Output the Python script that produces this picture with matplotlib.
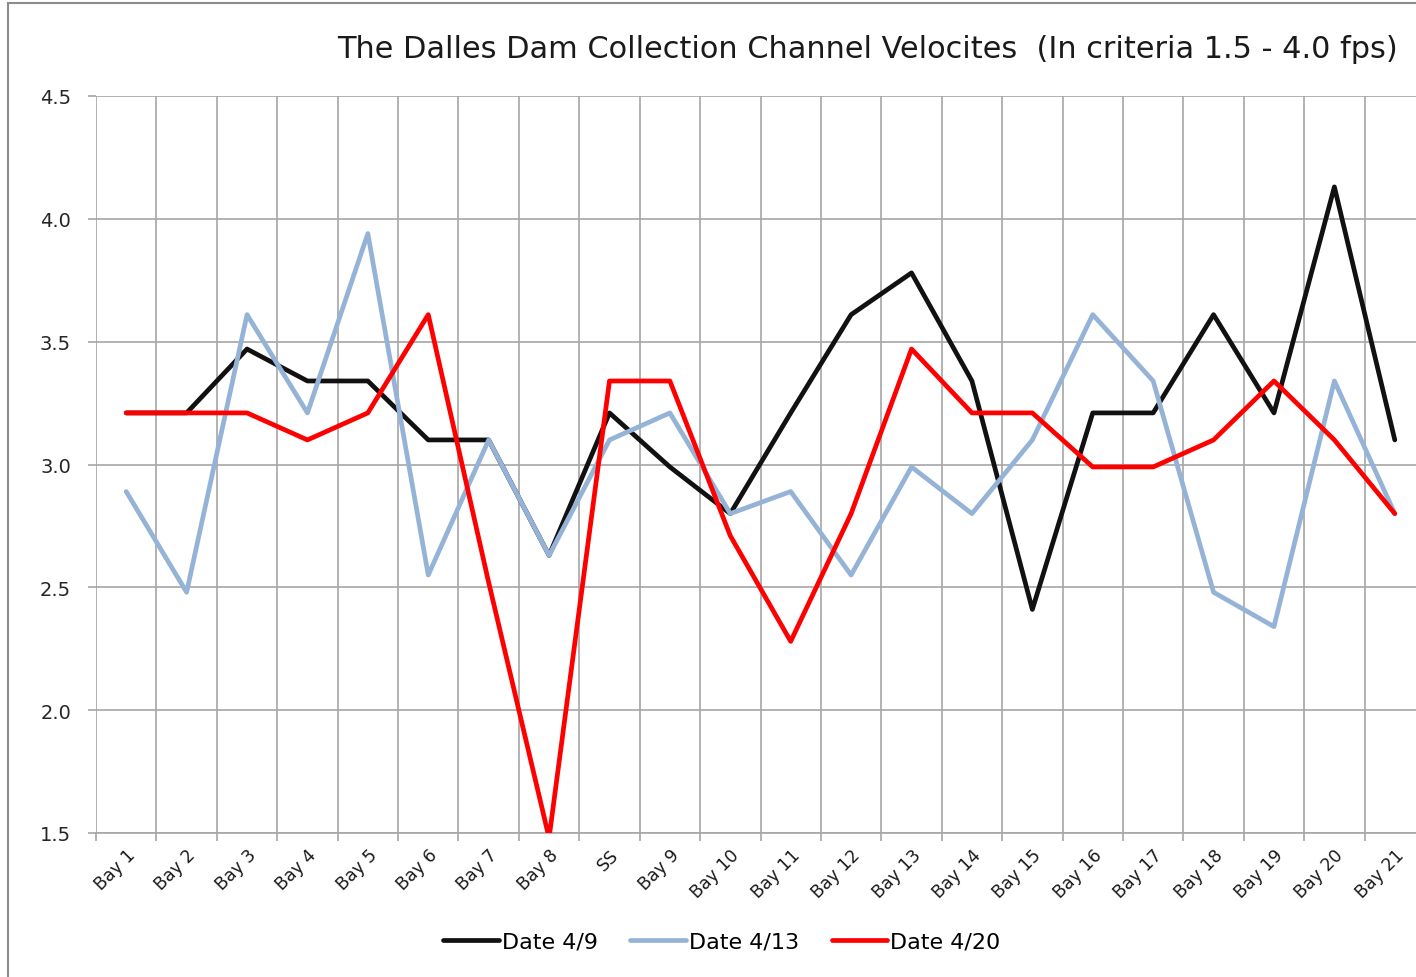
import numpy as np
import matplotlib.pyplot as plt
from matplotlib.patches import Rectangle

plt.rcParams['font.family'] = ['DejaVu Sans']

categories = ['Bay 1', 'Bay 2', 'Bay 3', 'Bay 4', 'Bay 5', 'Bay 6', 'Bay 7', 'Bay 8', 'SS',
              'Bay 9', 'Bay 10', 'Bay 11', 'Bay 12', 'Bay 13', 'Bay 14', 'Bay 15', 'Bay 16',
              'Bay 17', 'Bay 18', 'Bay 19', 'Bay 20', 'Bay 21']
date_4_9 = [3.21, 3.21, 3.47, 3.34, 3.34, 3.10, 3.10, 2.63, 3.21, 2.99, 2.80, 3.21, 3.61,
            3.78, 3.34, 2.41, 3.21, 3.21, 3.61, 3.21, 4.13, 3.10]
date_4_13 = [2.89, 2.48, 3.61, 3.21, 3.94, 2.55, 3.10, 2.63, 3.10, 3.21, 2.80, 2.89, 2.55,
             2.99, 2.80, 3.10, 3.61, 3.34, 2.48, 2.34, 3.34, 2.80]
date_4_20 = [3.21, 3.21, 3.21, 3.10, 3.21, 3.61, 2.52, 1.48, 3.34, 3.34, 2.71, 2.28, 2.80,
             3.47, 3.21, 3.21, 2.99, 2.99, 3.10, 3.34, 3.10, 2.80]
series_names = ['Date 4/9', 'Date 4/13', 'Date 4/20']
yticks = [1.5, 2.0, 2.5, 3.0, 3.5, 4.0, 4.5]

fig = plt.figure(figsize=(14.16, 9.78), dpi=100)
# outer chart border (cut off on the right and bottom like the screenshot)
fig.patches.append(Rectangle((8 / 1416, -0.05), 1.2, 1 - 4 / 978 + 0.05, transform=fig.transFigure,
                             fill=False, edgecolor='#8c8c8c', linewidth=1.5))

ax = fig.add_axes([96 / 1416, 1 - 834 / 978, 1329 / 1416, (834 - 97) / 978])
x = np.arange(len(categories))
grid_c = '#a6a6a6'

ax.plot(x, date_4_9, color='#111111', lw=3.4, label=series_names[0], solid_capstyle='round', zorder=3)
ax.plot(x, date_4_13, color='#95b3d7', lw=3.4, label=series_names[1], solid_capstyle='round', zorder=3)
ax.plot(x, date_4_20, color='#ff0000', lw=3.4, label=series_names[2], solid_capstyle='round', zorder=3)

ax.set_xlim(-0.5, len(categories) - 0.5)
ax.set_ylim(1.5, 4.5)
ax.set_yticks(yticks)
ax.set_yticklabels(['%.1f' % v for v in yticks], fontsize=14, color='#262626')

# gridlines at category boundaries
for b in np.arange(-0.5, len(categories), 1.0):
    ax.axvline(b, color=grid_c, lw=1.2, zorder=1)
for v in yticks:
    ax.axhline(v, color=grid_c, lw=1.2, zorder=1)

ax.set_xticks(np.arange(-0.5, len(categories), 1.0))
ax.set_xticklabels([])
ax.set_xticks(x, minor=True)
ax.set_xticklabels(categories, minor=True, rotation=45, ha='right', va='top',
                   fontsize=12.5, color='#1a1a1a', rotation_mode='anchor')
ax.tick_params(axis='x', which='minor', length=0, pad=9)
ax.tick_params(axis='x', which='major', length=6, color=grid_c, width=1.2)
ax.tick_params(axis='y', length=6, color=grid_c, width=1.2, pad=12)
for s in ['top', 'right', 'left']:
    ax.spines[s].set_visible(False)
ax.spines['bottom'].set_color(grid_c)
ax.spines['bottom'].set_linewidth(1.2)

fig.text(337 / 1416, 1 - 50 / 978, 'The Dalles Dam Collection Channel Velocites  (In criteria 1.5 - 4.0 fps)',
         fontsize=21.9, ha='left', va='center', color='#1a1a1a')

fig.legend(loc='center', bbox_to_anchor=(722 / 1416, 1 - 943 / 978), ncol=3, frameon=False,
           fontsize=16, handlelength=2.5, handletextpad=0.15, columnspacing=1.45)

fig.savefig('out.png', dpi=100)
